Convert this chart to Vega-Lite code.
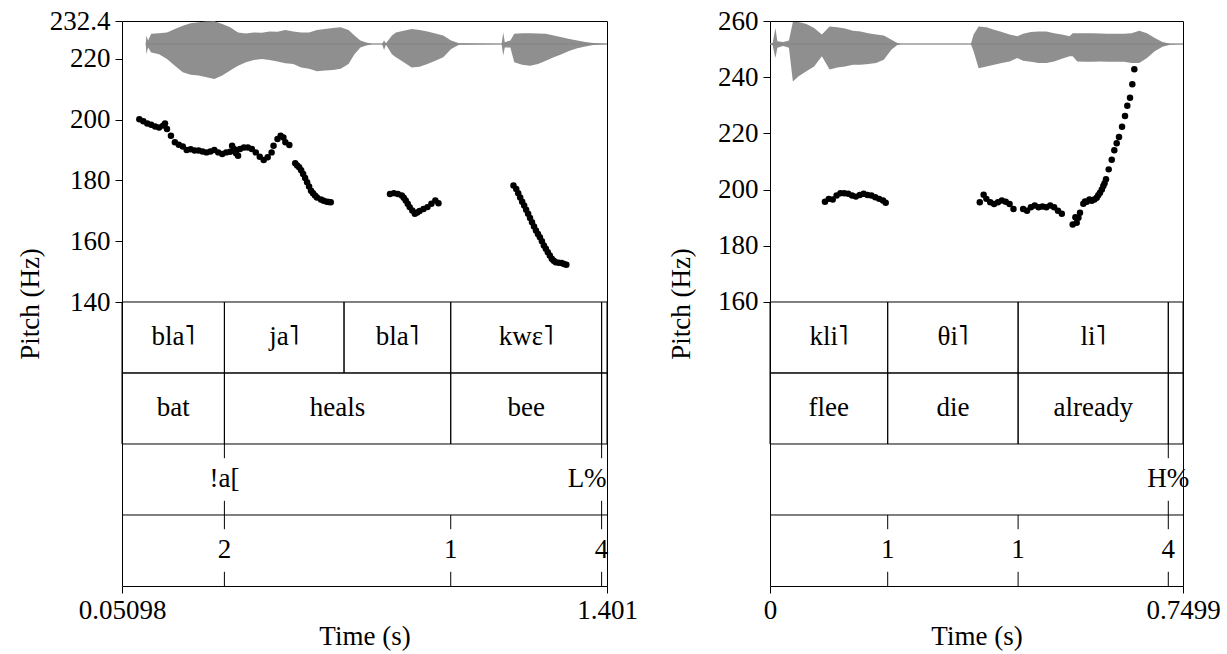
{
"$schema": "https://vega.github.io/schema/vega-lite/v6.json",
"padding": {"left": 15, "top": 6, "right": 5, "bottom": 5},
"bounds": "flush",
"spacing": 163,
"config": {
  "font": "Liberation Serif",
  "view": {"stroke": "#000", "strokeWidth": 1},
  "axis": {"labelFont": "Liberation Serif", "labelFontSize": 27, "labelColor": "#000", "titleFont": "Liberation Serif", "titleFontSize": 27, "titleFontWeight": "normal", "titleColor": "#000", "tickColor": "#000", "tickSize": 7, "domain": false, "grid": false, "labelFlush": false, "labelOverlap": false},
  "text": {"font": "Liberation Serif", "fontSize": 27, "color": "#000"}
},
"datasets": {
  "lp": [
    {"t":0.0993,"f0":200.1},{"t":0.1103,"f0":199.4},{"t":0.1213,"f0":198.7},{"t":0.1323,"f0":198.3},{"t":0.1433,"f0":197.7},{"t":0.1542,"f0":197.4},{"t":0.1652,"f0":198.0},{"t":0.1707,"f0":198.7},{"t":0.1762,"f0":196.9},{"t":0.1872,"f0":194.7},{"t":0.1982,"f0":192.5},{"t":0.2092,"f0":191.7},{"t":0.2202,"f0":191.1},{"t":0.2311,"f0":190.0},{"t":0.2421,"f0":190.2},{"t":0.2531,"f0":189.8},{"t":0.2641,"f0":189.8},{"t":0.2751,"f0":189.5},{"t":0.2861,"f0":189.2},{"t":0.2971,"f0":189.5},{"t":0.3080,"f0":190.0},{"t":0.3190,"f0":189.2},{"t":0.3300,"f0":188.7},{"t":0.3410,"f0":189.2},{"t":0.3520,"f0":189.4},{"t":0.3575,"f0":191.4},{"t":0.3630,"f0":190.3},{"t":0.3685,"f0":188.9},{"t":0.3740,"f0":188.1},{"t":0.3794,"f0":190.3},{"t":0.3904,"f0":190.8},{"t":0.4014,"f0":190.8},{"t":0.4124,"f0":190.3},{"t":0.4234,"f0":189.2},{"t":0.4344,"f0":187.8},{"t":0.4454,"f0":186.7},{"t":0.4564,"f0":187.6},{"t":0.4674,"f0":189.2},{"t":0.4728,"f0":191.4},{"t":0.4838,"f0":193.6},{"t":0.4926,"f0":194.7},{"t":0.5003,"f0":194.1},{"t":0.5058,"f0":192.5},{"t":0.5168,"f0":191.6},
    {"t":0.5332,"f0":185.6},{"t":0.5387,"f0":184.9},{"t":0.5442,"f0":184.3},{"t":0.5497,"f0":183.3},{"t":0.5552,"f0":182.1},{"t":0.5607,"f0":180.8},{"t":0.5662,"f0":179.4},{"t":0.5717,"f0":178.0},{"t":0.5772,"f0":176.6},{"t":0.5827,"f0":175.8},{"t":0.5882,"f0":175.0},{"t":0.5937,"f0":174.4},{"t":0.6046,"f0":173.7},{"t":0.6123,"f0":173.3},{"t":0.6211,"f0":173.0},{"t":0.6266,"f0":172.9},{"t":0.6321,"f0":172.8},
    {"t":0.7969,"f0":175.5},{"t":0.8079,"f0":175.8},{"t":0.8188,"f0":175.5},{"t":0.8298,"f0":175.0},{"t":0.8353,"f0":174.3},{"t":0.8408,"f0":173.4},{"t":0.8463,"f0":172.3},{"t":0.8518,"f0":171.2},{"t":0.8590,"f0":170.1},{"t":0.8661,"f0":169.0},{"t":0.8727,"f0":169.4},{"t":0.8793,"f0":169.9},{"t":0.8903,"f0":170.6},{"t":0.9012,"f0":171.2},{"t":0.9122,"f0":172.3},{"t":0.9232,"f0":173.4},{"t":0.9320,"f0":172.5},
    {"t":1.1407,"f0":178.3},{"t":1.1484,"f0":177.2},{"t":1.1539,"f0":175.8},{"t":1.1594,"f0":174.4},{"t":1.1649,"f0":173.0},{"t":1.1704,"f0":171.7},{"t":1.1759,"f0":170.3},{"t":1.1814,"f0":169.0},{"t":1.1868,"f0":167.6},{"t":1.1923,"f0":166.2},{"t":1.1978,"f0":164.8},{"t":1.2033,"f0":163.5},{"t":1.2088,"f0":162.4},{"t":1.2143,"f0":161.3},{"t":1.2198,"f0":160.0},{"t":1.2253,"f0":158.6},{"t":1.2308,"f0":157.5},{"t":1.2363,"f0":156.4},{"t":1.2418,"f0":155.3},{"t":1.2473,"f0":154.2},{"t":1.2528,"f0":153.6},{"t":1.2583,"f0":153.1},{"t":1.2665,"f0":152.9},{"t":1.2747,"f0":152.8},{"t":1.2813,"f0":152.5},{"t":1.2879,"f0":152.25}
  ],
  "lw": [
    {"t":0.1169,"hi":0.01,"lo":-0.01},{"t":0.1191,"hi":0.24,"lo":-0.29},{"t":0.1235,"hi":0.10,"lo":-0.10},{"t":0.1323,"hi":0.29,"lo":-0.24},{"t":0.1542,"hi":0.31,"lo":-0.29},{"t":0.1762,"hi":0.33,"lo":-0.43},{"t":0.1982,"hi":0.43,"lo":-0.62},{"t":0.2202,"hi":0.52,"lo":-0.81},{"t":0.2421,"hi":0.59,"lo":-0.88},{"t":0.2641,"hi":0.62,"lo":-0.90},{"t":0.2861,"hi":0.64,"lo":-0.95},{"t":0.3080,"hi":0.65,"lo":-1.0},{"t":0.3300,"hi":0.57,"lo":-0.90},{"t":0.3520,"hi":0.48,"lo":-0.76},{"t":0.3740,"hi":0.33,"lo":-0.62},{"t":0.3959,"hi":0.30,"lo":-0.52},{"t":0.4179,"hi":0.33,"lo":-0.46},{"t":0.4399,"hi":0.32,"lo":-0.43},{"t":0.4619,"hi":0.36,"lo":-0.46},{"t":0.4838,"hi":0.35,"lo":-0.50},{"t":0.5058,"hi":0.40,"lo":-0.55},{"t":0.5278,"hi":0.36,"lo":-0.57},{"t":0.5497,"hi":0.33,"lo":-0.67},{"t":0.5717,"hi":0.33,"lo":-0.71},{"t":0.5937,"hi":0.40,"lo":-0.78},{"t":0.6157,"hi":0.43,"lo":-0.76},{"t":0.6376,"hi":0.46,"lo":-0.74},{"t":0.6596,"hi":0.48,"lo":-0.71},{"t":0.6816,"hi":0.40,"lo":-0.57},{"t":0.6981,"hi":0.24,"lo":-0.29},{"t":0.7146,"hi":0.10,"lo":-0.10},{"t":0.7310,"hi":0.04,"lo":-0.04},{"t":0.7474,"hi":0.01,"lo":-0.01},
    {"t":0.7749,"hi":0.01,"lo":-0.01},{"t":0.7804,"hi":0.10,"lo":-0.17},{"t":0.7859,"hi":0.02,"lo":-0.02},{"t":0.8023,"hi":0.24,"lo":-0.29},{"t":0.8133,"hi":0.33,"lo":-0.38},{"t":0.8353,"hi":0.38,"lo":-0.52},{"t":0.8573,"hi":0.43,"lo":-0.67},{"t":0.8792,"hi":0.40,"lo":-0.65},{"t":0.9012,"hi":0.36,"lo":-0.57},{"t":0.9232,"hi":0.30,"lo":-0.48},{"t":0.9452,"hi":0.24,"lo":-0.38},{"t":0.9671,"hi":0.10,"lo":-0.14},{"t":0.9891,"hi":0.02,"lo":-0.02},
    {"t":1.1077,"hi":0.01,"lo":-0.01},{"t":1.1121,"hi":0.33,"lo":-0.33},{"t":1.1165,"hi":0.05,"lo":-0.10},{"t":1.1319,"hi":0.10,"lo":-0.10},{"t":1.1429,"hi":0.29,"lo":-0.52},{"t":1.1648,"hi":0.31,"lo":-0.59},{"t":1.1868,"hi":0.31,"lo":-0.62},{"t":1.2088,"hi":0.30,"lo":-0.57},{"t":1.2308,"hi":0.29,"lo":-0.48},{"t":1.2527,"hi":0.24,"lo":-0.38},{"t":1.2747,"hi":0.19,"lo":-0.29},{"t":1.2967,"hi":0.14,"lo":-0.19},{"t":1.3187,"hi":0.10,"lo":-0.12},{"t":1.3406,"hi":0.06,"lo":-0.07},{"t":1.3626,"hi":0.03,"lo":-0.03},{"t":1.4010,"hi":0.01,"lo":-0.01}
  ],
  "lc": [{"t0":0.1169,"t1":1.401}],
  "li": [
    {"tier":"syl","id":1,"label":"bla˥","start":0.05098,"end":0.336},{"tier":"syl","id":2,"label":"ja˥","start":0.336,"end":0.669},{"tier":"syl","id":3,"label":"bla˥","start":0.669,"end":0.966},{"tier":"syl","id":4,"label":"kwɛ˥","start":0.966,"end":1.386},{"tier":"syl","id":5,"label":"","start":1.386,"end":1.401},
    {"tier":"word","id":6,"label":"bat","start":0.05098,"end":0.336},{"tier":"word","id":7,"label":"heals","start":0.336,"end":0.966},{"tier":"word","id":8,"label":"bee","start":0.966,"end":1.386},{"tier":"word","id":9,"label":"","start":1.386,"end":1.401}
  ],
  "lpt": [
    {"tier":"tone","t":0.336,"label":"!a["},{"tier":"tone","t":1.386,"label":"L%"},
    {"tier":"brk","t":0.336,"label":"2"},{"tier":"brk","t":0.966,"label":"1"},{"tier":"brk","t":1.386,"label":"4"}
  ],
  "rp": [
    {"t":0.0998,"f0":195.7},{"t":0.1068,"f0":196.7},{"t":0.1139,"f0":196.5},{"t":0.1209,"f0":197.9},{"t":0.1279,"f0":198.7},{"t":0.1349,"f0":198.7},{"t":0.1420,"f0":198.5},{"t":0.1490,"f0":197.9},{"t":0.1560,"f0":197.5},{"t":0.1630,"f0":198.1},{"t":0.1701,"f0":198.5},{"t":0.1771,"f0":198.1},{"t":0.1841,"f0":197.9},{"t":0.1912,"f0":197.3},{"t":0.1982,"f0":196.7},{"t":0.2052,"f0":196.1},{"t":0.2101,"f0":195.3},
    {"t":0.3809,"f0":195.5},{"t":0.3879,"f0":198.2},{"t":0.3929,"f0":196.7},{"t":0.3999,"f0":195.5},{"t":0.4069,"f0":194.9},{"t":0.4139,"f0":195.5},{"t":0.4210,"f0":196.1},{"t":0.4280,"f0":195.7},{"t":0.4350,"f0":194.9},{"t":0.4421,"f0":193.1},
    {"t":0.4596,"f0":193.1},{"t":0.4667,"f0":192.5},{"t":0.4737,"f0":193.7},{"t":0.4807,"f0":194.3},{"t":0.4877,"f0":193.7},{"t":0.4948,"f0":194.0},{"t":0.5018,"f0":193.7},{"t":0.5088,"f0":194.3},{"t":0.5159,"f0":193.7},{"t":0.5229,"f0":192.5},{"t":0.5299,"f0":191.4},
    {"t":0.5496,"f0":187.6},{"t":0.5545,"f0":190.2},{"t":0.5569,"f0":188.2},{"t":0.5600,"f0":190.0},{"t":0.5629,"f0":191.8},{"t":0.5689,"f0":195.0},{"t":0.5720,"f0":195.8},{"t":0.5751,"f0":195.7},{"t":0.5800,"f0":196.5},{"t":0.5841,"f0":196.0},{"t":0.5890,"f0":196.5},{"t":0.5932,"f0":197.1},{"t":0.5960,"f0":198.0},{"t":0.5992,"f0":198.9},{"t":0.6025,"f0":200.0},{"t":0.6052,"f0":201.3},{"t":0.6075,"f0":202.3},{"t":0.6101,"f0":203.7},{"t":0.6150,"f0":207.2},{"t":0.6205,"f0":210.6},{"t":0.6252,"f0":214.0},{"t":0.6295,"f0":216.5},{"t":0.6337,"f0":218.7},{"t":0.6392,"f0":222.4},{"t":0.6446,"f0":226.2},{"t":0.6488,"f0":229.8},{"t":0.6537,"f0":232.7},{"t":0.6579,"f0":237.5},{"t":0.6615,"f0":242.8}
  ],
  "rw": [
    {"t":0,"hi":0.01,"lo":-0.01},{"t":0.0049,"hi":0.03,"lo":-0.04},{"t":0.0098,"hi":0.46,"lo":-0.40},{"t":0.0134,"hi":0.08,"lo":-0.11},{"t":0.0239,"hi":0.06,"lo":-0.06},{"t":0.0344,"hi":0.10,"lo":-0.11},{"t":0.0415,"hi":0.63,"lo":-1.07},{"t":0.0520,"hi":0.63,"lo":-0.92},{"t":0.0661,"hi":0.57,"lo":-0.78},{"t":0.0801,"hi":0.46,"lo":-0.64},{"t":0.0942,"hi":0.27,"lo":-0.35},{"t":0.1082,"hi":0.50,"lo":-0.73},{"t":0.1223,"hi":0.48,"lo":-0.67},{"t":0.1363,"hi":0.44,"lo":-0.64},{"t":0.1504,"hi":0.38,"lo":-0.59},{"t":0.1645,"hi":0.36,"lo":-0.59},{"t":0.1785,"hi":0.31,"lo":-0.57},{"t":0.1926,"hi":0.27,"lo":-0.54},{"t":0.2066,"hi":0.24,"lo":-0.45},{"t":0.2207,"hi":0.12,"lo":-0.16},{"t":0.2312,"hi":0.03,"lo":-0.03},{"t":0.2382,"hi":0.01,"lo":-0.01},
    {"t":0.3648,"hi":0.01,"lo":-0.01},{"t":0.3697,"hi":0.27,"lo":-0.21},{"t":0.3788,"hi":0.50,"lo":-0.69},{"t":0.3929,"hi":0.48,"lo":-0.64},{"t":0.4069,"hi":0.41,"lo":-0.59},{"t":0.4210,"hi":0.34,"lo":-0.54},{"t":0.4350,"hi":0.27,"lo":-0.50},{"t":0.4491,"hi":0.22,"lo":-0.40},{"t":0.4596,"hi":0.29,"lo":-0.48},{"t":0.4737,"hi":0.34,"lo":-0.51},{"t":0.4877,"hi":0.36,"lo":-0.54},{"t":0.5018,"hi":0.36,"lo":-0.54},{"t":0.5159,"hi":0.31,"lo":-0.50},{"t":0.5299,"hi":0.27,"lo":-0.42},{"t":0.5440,"hi":0.22,"lo":-0.35},{"t":0.5496,"hi":0.31,"lo":-0.35},{"t":0.5580,"hi":0.31,"lo":-0.50},{"t":0.5721,"hi":0.31,"lo":-0.51},{"t":0.5861,"hi":0.31,"lo":-0.51},{"t":0.6002,"hi":0.30,"lo":-0.50},{"t":0.6142,"hi":0.29,"lo":-0.51},{"t":0.6283,"hi":0.29,"lo":-0.51},{"t":0.6424,"hi":0.29,"lo":-0.51},{"t":0.6564,"hi":0.31,"lo":-0.54},{"t":0.6705,"hi":0.38,"lo":-0.54},{"t":0.6845,"hi":0.31,"lo":-0.40},{"t":0.6986,"hi":0.17,"lo":-0.21},{"t":0.7127,"hi":0.06,"lo":-0.08},{"t":0.7267,"hi":0.01,"lo":-0.02},{"t":0.7499,"hi":0.01,"lo":-0.01}
  ],
  "rc": [{"t0":0,"t1":0.7499}],
  "ri": [
    {"tier":"syl","id":1,"label":"kli˥","start":0,"end":0.2137},{"tier":"syl","id":2,"label":"θi˥","start":0.2137,"end":0.4505},{"tier":"syl","id":3,"label":"li˥","start":0.4505,"end":0.7232},{"tier":"syl","id":4,"label":"","start":0.7232,"end":0.7499},
    {"tier":"word","id":5,"label":"flee","start":0,"end":0.2137},{"tier":"word","id":6,"label":"die","start":0.2137,"end":0.4505},{"tier":"word","id":7,"label":"already","start":0.4505,"end":0.7232},{"tier":"word","id":8,"label":"","start":0.7232,"end":0.7499}
  ],
  "rpt": [
    {"tier":"tone","t":0.7232,"label":"H%"},
    {"tier":"brk","t":0.2137,"label":"1"},{"tier":"brk","t":0.4505,"label":"1"},{"tier":"brk","t":0.7232,"label":"4"}
  ]
},
"hconcat": [
{
  "width": 485, "height": 565,
  "resolve": {"scale": {"y": "independent"}},
  "layer": [
    {"data": {"name": "lw"}, "mark": {"type": "area", "color": "#8f8f8f"},
     "encoding": {"x": {"field": "t", "type": "quantitative", "scale": {"domain": [0.05098, 1.401], "nice": false, "zero": false}, "title": "Time (s)"},
       "y": {"field": "hi", "type": "quantitative", "scale": {"domain": [-15.486, 0.657], "nice": false, "zero": false}, "axis": null},
       "y2": {"field": "lo"}}},
    {"data": {"name": "lc"}, "mark": {"type": "rule", "color": "#858585", "strokeWidth": 1},
     "encoding": {"x": {"field": "t0", "type": "quantitative", "scale": {"domain": [0.05098, 1.401], "nice": false, "zero": false}, "title": "Time (s)"}, "x2": {"field": "t1"},
       "y": {"datum": 0, "type": "quantitative", "scale": {"domain": [-15.486, 0.657], "nice": false, "zero": false}, "axis": null}}},
    {"data": {"name": "li"}, "transform": [{"filter": "datum.tier == 'syl'"}], "mark": {"type": "rect", "filled": false, "stroke": "#000", "strokeWidth": 1},
     "encoding": {"x": {"field": "start", "type": "quantitative", "scale": {"domain": [0.05098, 1.401], "nice": false, "zero": false}, "title": "Time (s)"}, "x2": {"field": "end"},
       "y": {"datum": 3, "type": "quantitative", "scale": {"domain": [0, 7.9577], "nice": false, "zero": false}, "axis": null}, "y2": {"datum": 4}}},
    {"data": {"name": "li"}, "transform": [{"filter": "datum.tier == 'word'"}], "mark": {"type": "rect", "filled": false, "stroke": "#000", "strokeWidth": 1},
     "encoding": {"x": {"field": "start", "type": "quantitative", "scale": {"domain": [0.05098, 1.401], "nice": false, "zero": false}, "title": "Time (s)"}, "x2": {"field": "end"},
       "y": {"datum": 2, "type": "quantitative", "scale": {"domain": [0, 7.9577], "nice": false, "zero": false}, "axis": null}, "y2": {"datum": 3}}},
    {"data": {"values": [{}]}, "mark": {"type": "rule", "color": "#000", "strokeWidth": 1},
     "encoding": {"y": {"datum": 1, "type": "quantitative", "scale": {"domain": [0, 7.9577], "nice": false, "zero": false}, "axis": null}}},
    {"data": {"name": "li"}, "transform": [{"filter": "datum.tier == 'syl' && datum.label != ''"}, {"fold": ["start", "end"], "as": ["edge", "tt"]}], "mark": {"type": "text"},
     "encoding": {"x": {"field": "tt", "aggregate": "mean", "type": "quantitative", "scale": {"domain": [0.05098, 1.401], "nice": false, "zero": false}, "title": "Time (s)"},
       "y": {"datum": 3.5, "type": "quantitative", "scale": {"domain": [0, 7.9577], "nice": false, "zero": false}, "axis": null},
       "text": {"field": "label"}, "detail": {"field": "id"}}},
    {"data": {"name": "li"}, "transform": [{"filter": "datum.tier == 'word' && datum.label != ''"}, {"fold": ["start", "end"], "as": ["edge", "tt"]}], "mark": {"type": "text"},
     "encoding": {"x": {"field": "tt", "aggregate": "mean", "type": "quantitative", "scale": {"domain": [0.05098, 1.401], "nice": false, "zero": false}, "title": "Time (s)"},
       "y": {"datum": 2.5, "type": "quantitative", "scale": {"domain": [0, 7.9577], "nice": false, "zero": false}, "axis": null},
       "text": {"field": "label"}, "detail": {"field": "id"}}},
    {"data": {"name": "lpt"}, "transform": [{"filter": "datum.tier == 'tone'"}], "mark": {"type": "rule", "color": "#000", "strokeWidth": 1, "strokeDash": [14.2, 42.6]},
     "encoding": {"x": {"field": "t", "type": "quantitative", "scale": {"domain": [0.05098, 1.401], "nice": false, "zero": false}, "title": "Time (s)"},
       "y": {"datum": 1, "type": "quantitative", "scale": {"domain": [0, 7.9577], "nice": false, "zero": false}, "axis": null}, "y2": {"datum": 2}}},
    {"data": {"name": "lpt"}, "transform": [{"filter": "datum.tier == 'brk'"}], "mark": {"type": "rule", "color": "#000", "strokeWidth": 1, "strokeDash": [14.2, 42.6]},
     "encoding": {"x": {"field": "t", "type": "quantitative", "scale": {"domain": [0.05098, 1.401], "nice": false, "zero": false}, "title": "Time (s)"},
       "y": {"datum": 0, "type": "quantitative", "scale": {"domain": [0, 7.9577], "nice": false, "zero": false}, "axis": null}, "y2": {"datum": 1}}},
    {"data": {"name": "lpt"}, "transform": [{"filter": "datum.tier == 'tone' && datum.label != 'L%'"}], "mark": {"type": "text"},
     "encoding": {"x": {"field": "t", "type": "quantitative", "scale": {"domain": [0.05098, 1.401], "nice": false, "zero": false}, "title": "Time (s)"},
       "y": {"datum": 1.5, "type": "quantitative", "scale": {"domain": [0, 7.9577], "nice": false, "zero": false}, "axis": null}, "text": {"field": "label"}}},
    {"data": {"name": "lpt"}, "transform": [{"filter": "datum.label == 'L%'"}], "mark": {"type": "text", "align": "right", "dx": 5},
     "encoding": {"x": {"field": "t", "type": "quantitative", "scale": {"domain": [0.05098, 1.401], "nice": false, "zero": false}, "title": "Time (s)"},
       "y": {"datum": 1.5, "type": "quantitative", "scale": {"domain": [0, 7.9577], "nice": false, "zero": false}, "axis": null}, "text": {"field": "label"}}},
    {"data": {"name": "lpt"}, "transform": [{"filter": "datum.tier == 'brk'"}], "mark": {"type": "text"},
     "encoding": {"x": {"field": "t", "type": "quantitative", "scale": {"domain": [0.05098, 1.401], "nice": false, "zero": false}, "title": "Time (s)"},
       "y": {"datum": 0.5, "type": "quantitative", "scale": {"domain": [0, 7.9577], "nice": false, "zero": false}, "axis": null}, "text": {"field": "label"}}},
    {"data": {"name": "lp"}, "mark": {"type": "point", "filled": true, "color": "#000", "size": 42, "opacity": 1},
     "encoding": {"x": {"field": "t", "type": "quantitative", "scale": {"domain": [0.05098, 1.401], "nice": false, "zero": false}, "title": "Time (s)",
         "axis": {"values": [0.05098, 1.401], "labelExpr": "datum.value", "labelPadding": 4, "titlePadding": 0}},
       "y": {"field": "f0", "type": "quantitative", "scale": {"domain": [46.62, 232.4], "nice": false, "zero": false}, "title": "Pitch (Hz)",
         "axis": {"orient": "left", "values": [140, 160, 180, 200, 220, 232.4], "labelExpr": "datum.value", "labelPadding": 5, "titlePadding": 5}}}}
  ]
},
{
  "width": 413, "height": 565,
  "resolve": {"scale": {"y": "independent"}},
  "layer": [
    {"data": {"name": "rw"}, "mark": {"type": "area", "color": "#8f8f8f"},
     "encoding": {"x": {"field": "t", "type": "quantitative", "scale": {"domain": [0, 0.7499], "nice": false, "zero": false}, "title": "Time (s)"},
       "y": {"field": "hi", "type": "quantitative", "scale": {"domain": [-15.486, 0.657], "nice": false, "zero": false}, "axis": null},
       "y2": {"field": "lo"}}},
    {"data": {"name": "rc"}, "mark": {"type": "rule", "color": "#858585", "strokeWidth": 1},
     "encoding": {"x": {"field": "t0", "type": "quantitative", "scale": {"domain": [0, 0.7499], "nice": false, "zero": false}, "title": "Time (s)"}, "x2": {"field": "t1"},
       "y": {"datum": 0, "type": "quantitative", "scale": {"domain": [-15.486, 0.657], "nice": false, "zero": false}, "axis": null}}},
    {"data": {"name": "ri"}, "transform": [{"filter": "datum.tier == 'syl'"}], "mark": {"type": "rect", "filled": false, "stroke": "#000", "strokeWidth": 1},
     "encoding": {"x": {"field": "start", "type": "quantitative", "scale": {"domain": [0, 0.7499], "nice": false, "zero": false}, "title": "Time (s)"}, "x2": {"field": "end"},
       "y": {"datum": 3, "type": "quantitative", "scale": {"domain": [0, 7.9577], "nice": false, "zero": false}, "axis": null}, "y2": {"datum": 4}}},
    {"data": {"name": "ri"}, "transform": [{"filter": "datum.tier == 'word'"}], "mark": {"type": "rect", "filled": false, "stroke": "#000", "strokeWidth": 1},
     "encoding": {"x": {"field": "start", "type": "quantitative", "scale": {"domain": [0, 0.7499], "nice": false, "zero": false}, "title": "Time (s)"}, "x2": {"field": "end"},
       "y": {"datum": 2, "type": "quantitative", "scale": {"domain": [0, 7.9577], "nice": false, "zero": false}, "axis": null}, "y2": {"datum": 3}}},
    {"data": {"values": [{}]}, "mark": {"type": "rule", "color": "#000", "strokeWidth": 1},
     "encoding": {"y": {"datum": 1, "type": "quantitative", "scale": {"domain": [0, 7.9577], "nice": false, "zero": false}, "axis": null}}},
    {"data": {"name": "ri"}, "transform": [{"filter": "datum.tier == 'syl' && datum.label != ''"}, {"fold": ["start", "end"], "as": ["edge", "tt"]}], "mark": {"type": "text"},
     "encoding": {"x": {"field": "tt", "aggregate": "mean", "type": "quantitative", "scale": {"domain": [0, 0.7499], "nice": false, "zero": false}, "title": "Time (s)"},
       "y": {"datum": 3.5, "type": "quantitative", "scale": {"domain": [0, 7.9577], "nice": false, "zero": false}, "axis": null},
       "text": {"field": "label"}, "detail": {"field": "id"}}},
    {"data": {"name": "ri"}, "transform": [{"filter": "datum.tier == 'word' && datum.label != ''"}, {"fold": ["start", "end"], "as": ["edge", "tt"]}], "mark": {"type": "text"},
     "encoding": {"x": {"field": "tt", "aggregate": "mean", "type": "quantitative", "scale": {"domain": [0, 0.7499], "nice": false, "zero": false}, "title": "Time (s)"},
       "y": {"datum": 2.5, "type": "quantitative", "scale": {"domain": [0, 7.9577], "nice": false, "zero": false}, "axis": null},
       "text": {"field": "label"}, "detail": {"field": "id"}}},
    {"data": {"name": "rpt"}, "transform": [{"filter": "datum.tier == 'tone'"}], "mark": {"type": "rule", "color": "#000", "strokeWidth": 1, "strokeDash": [14.2, 42.6]},
     "encoding": {"x": {"field": "t", "type": "quantitative", "scale": {"domain": [0, 0.7499], "nice": false, "zero": false}, "title": "Time (s)"},
       "y": {"datum": 1, "type": "quantitative", "scale": {"domain": [0, 7.9577], "nice": false, "zero": false}, "axis": null}, "y2": {"datum": 2}}},
    {"data": {"name": "rpt"}, "transform": [{"filter": "datum.tier == 'brk'"}], "mark": {"type": "rule", "color": "#000", "strokeWidth": 1, "strokeDash": [14.2, 42.6]},
     "encoding": {"x": {"field": "t", "type": "quantitative", "scale": {"domain": [0, 0.7499], "nice": false, "zero": false}, "title": "Time (s)"},
       "y": {"datum": 0, "type": "quantitative", "scale": {"domain": [0, 7.9577], "nice": false, "zero": false}, "axis": null}, "y2": {"datum": 1}}},
    {"data": {"name": "rpt"}, "transform": [{"filter": "datum.tier == 'tone'"}], "mark": {"type": "text"},
     "encoding": {"x": {"field": "t", "type": "quantitative", "scale": {"domain": [0, 0.7499], "nice": false, "zero": false}, "title": "Time (s)"},
       "y": {"datum": 1.5, "type": "quantitative", "scale": {"domain": [0, 7.9577], "nice": false, "zero": false}, "axis": null}, "text": {"field": "label"}}},
    {"data": {"name": "rpt"}, "transform": [{"filter": "datum.tier == 'brk'"}], "mark": {"type": "text"},
     "encoding": {"x": {"field": "t", "type": "quantitative", "scale": {"domain": [0, 0.7499], "nice": false, "zero": false}, "title": "Time (s)"},
       "y": {"datum": 0.5, "type": "quantitative", "scale": {"domain": [0, 7.9577], "nice": false, "zero": false}, "axis": null}, "text": {"field": "label"}}},
    {"data": {"name": "rp"}, "mark": {"type": "point", "filled": true, "color": "#000", "size": 42, "opacity": 1},
     "encoding": {"x": {"field": "t", "type": "quantitative", "scale": {"domain": [0, 0.7499], "nice": false, "zero": false}, "title": "Time (s)",
         "axis": {"values": [0, 0.7499], "labelExpr": "datum.value", "labelPadding": 4, "titlePadding": 0}},
       "y": {"field": "f0", "type": "quantitative", "scale": {"domain": [58.93, 260], "nice": false, "zero": false}, "title": "Pitch (Hz)",
         "axis": {"orient": "left", "values": [160, 180, 200, 220, 240, 260], "labelExpr": "datum.value", "labelPadding": 5, "titlePadding": 22}}}}
  ]
}
]
}
